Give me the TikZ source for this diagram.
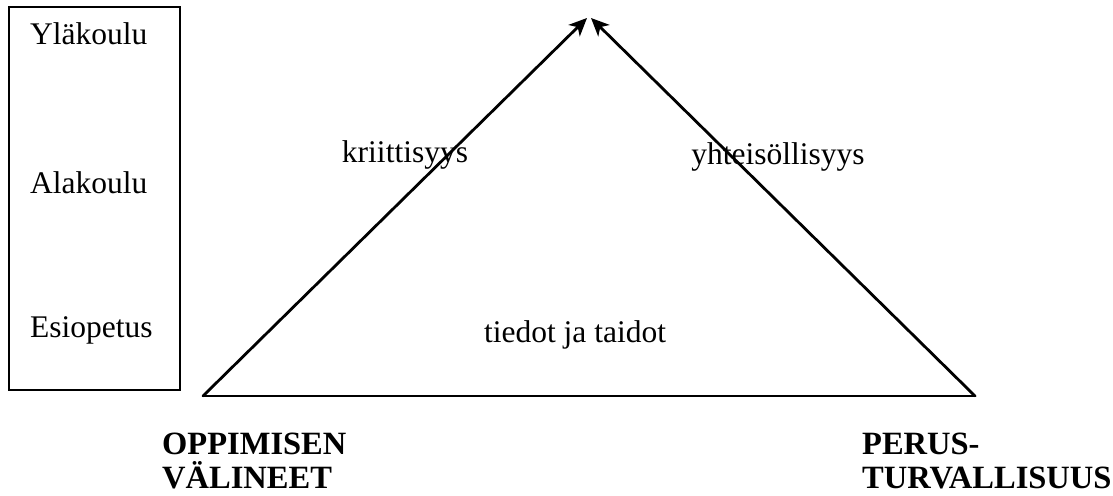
\documentclass[tikz,border=0pt]{standalone}
\usepackage{fontspec}
\setmainfont{Liberation Serif}
\usetikzlibrary{arrows.meta}
\begin{document}
\begin{tikzpicture}[x=1pt,y=-1pt,
  lbl/.style={inner sep=0pt, font=\fontsize{31.5}{35}\selectfont},
  blbl/.style={inner sep=0pt, font=\fontsize{32.5}{35}\selectfont\bfseries, anchor=base west},
  edge/.style={line width=2.8pt, line cap=round, line join=round},
  arr/.style={edge, -{Stealth[length=18pt,width=16pt,inset=5pt]}}]
\fill[white] (0,0) rectangle (1113,495);
\useasboundingbox (0,0) rectangle (1113,495);
% level box
\draw[line width=1.8pt] (9,7) rectangle (180,390);
\node[lbl, anchor=base west] (yla) at (30,45) {Yläkoulu};
\node[lbl, anchor=base west] (ala) at (30,193) {Alakoulu};
\node[lbl, anchor=base west] (esi) at (30,337) {Esiopetus};
% triangle
\coordinate (bl) at (203,396);
\coordinate (br) at (975,396);
\coordinate (tl) at (587,18);
\coordinate (tr) at (591,18);
\draw[edge] (bl) -- (br);
\draw[arr] (bl) -- (tl);
\draw[arr] (br) -- (tr);
% labels
\node[lbl, anchor=base] (krit) at (405,162) {kriittisyys};
\node[lbl, anchor=base] (yht) at (778,164) {yhteisöllisyys};
\node[lbl, anchor=base] (tied) at (575,342) {tiedot ja taidot};
% corner labels
\node[blbl] (opp1) at (162,454) {OPPIMISEN};
\node[blbl] (opp2) at (162,488) {VÄLINEET};
\node[blbl] (per1) at (862,454) {PERUS-};
\node[blbl] (per2) at (862,488) {TURVALLISUUS};
\end{tikzpicture}
\end{document}
